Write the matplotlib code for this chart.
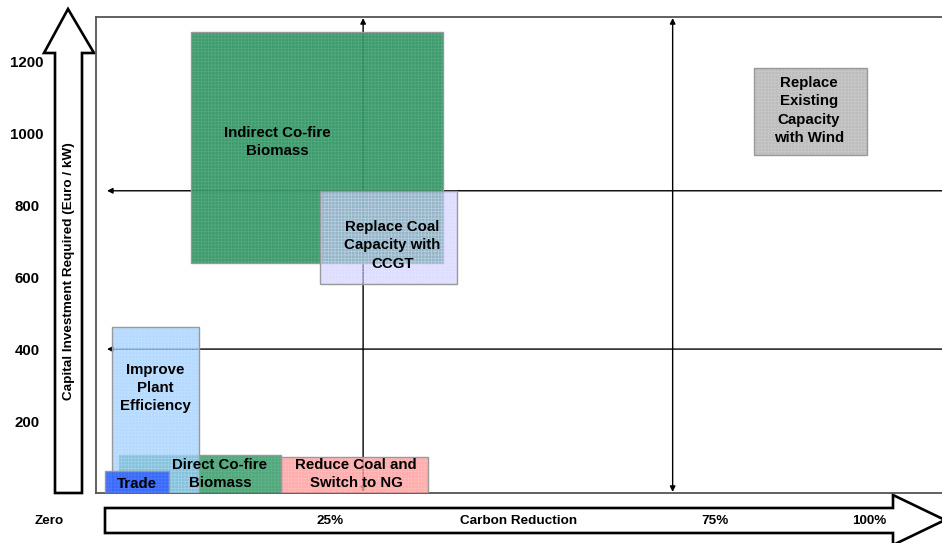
import matplotlib
matplotlib.use('Agg')
import matplotlib.pyplot as plt
from matplotlib.patches import Rectangle, Polygon
from matplotlib.transforms import blended_transform_factory

plt.rcParams['font.family'] = ['Liberation Sans', 'DejaVu Sans']
plt.rcParams['font.weight'] = 'bold'
plt.rcParams['hatch.linewidth'] = 0.5

# options: carbon reduction range (%) and capital cost range (Euro/kW)
options = ['Indirect Co-fire\nBiomass', 'Replace Coal\nCapacity with\nCCGT',
           'Replace\nExisting\nCapacity\nwith Wind', 'Direct Co-fire\nBiomass',
           'Reduce Coal and\nSwitch to NG', 'Improve\nPlant\nEfficiency', 'Trade']
reduction_lo = [7.0, 23.7, 80.0, -2.4, 18.6, -3.3, -4.2]
reduction_hi = [39.7, 41.5, 94.8, 18.6, 37.7, 8.0, 4.1]
cost_lo = [640, 580, 940, 0, 0, 0, 0]
cost_hi = [1280, 840, 1180, 105, 100, 460, 60]

cost_ticks = [200, 400, 600, 800, 1000, 1200]
reduction_labels = ['Zero', '25%', 'Carbon Reduction', '75%', '100%']
reduction_label_x = [-11.4, 25, 49.5, 75, 95]

# reference guides
cost_levels = [840, 400]
reduction_levels = [29.3, 69.5]

# styles
face = ['#2f9462', '#c8c8ff', '#bdbdbd', '#339966', '#ff9999', '#99ccff', '#3366ff']
grid = ['#7cc29c', '#eeeeff', '#dcdcdc', '#7cc29c', '#ffd0d0', '#d0e8ff', '#7090ff']
alpha = [0.93, 0.62, 1.0, 0.85, 0.8, 0.72, 0.95]
text_x = [18.1, 33.1, 87.2, 10.7, 28.4, 2.3, -0.1]
text_y = [976, 689, 1063, 53, 53, 292, 25]

W, H = 942, 543
fig = plt.figure(figsize=(W / 100, H / 100), dpi=100)
ax = fig.add_axes([96 / W, (H - 493) / H, (946 - 96) / W, (493 - 17) / H])
ax.set_xlim(-5.39, 105.0)
ax.set_ylim(0, 1323)

for s in ['top', 'left', 'bottom']:
    ax.spines[s].set_color('#555555')
    ax.spines[s].set_linewidth(1.3)
ax.spines['right'].set_visible(False)

ax.set_xticks([])
ax.set_yticks(cost_ticks, [str(v) for v in cost_ticks])
ax.tick_params(axis='y', length=0, pad=49.7, labelsize=10.8)
for lbl in ax.get_yticklabels():
    lbl.set_ha('center')
    lbl.set_fontweight('bold')

# guide arrows
for lv in cost_levels:
    ax.annotate('', xy=(-3.96, lv), xytext=(110, lv),
                arrowprops=dict(arrowstyle='-|>', color='black', lw=1.0,
                                mutation_scale=8, shrinkA=0, shrinkB=0),
                zorder=2, annotation_clip=False)
for lv in reduction_levels:
    ax.annotate('', xy=(lv, 1320), xytext=(lv, 3),
                arrowprops=dict(arrowstyle='<|-|>', color='black', lw=1.0,
                                mutation_scale=8, shrinkA=0, shrinkB=0),
                zorder=2)

for i, name in enumerate(options):
    w = reduction_hi[i] - reduction_lo[i]
    h = cost_hi[i] - cost_lo[i]
    ax.add_patch(Rectangle((reduction_lo[i], cost_lo[i]), w, h,
                           facecolor=face[i], alpha=alpha[i], edgecolor='none',
                           zorder=3 + i))
    ax.add_patch(Rectangle((reduction_lo[i], cost_lo[i]), w, h,
                           facecolor='none', edgecolor=grid[i], hatch='+++++',
                           lw=0, alpha=0.38, zorder=3 + i))
    ax.add_patch(Rectangle((reduction_lo[i], cost_lo[i]), w, h,
                           facecolor='none', edgecolor='#999999', lw=1.0,
                           zorder=3 + i))
    ax.text(text_x[i], text_y[i], name, ha='center', va='center',
            fontsize=10.8, fontweight='bold', linespacing=1.4, zorder=20)

# hollow axis arrows (pixel outlines, y measured from top)
def px(points):
    return [(x / W, 1 - y / H) for x, y in points]

up = px([(55, 493), (55, 53), (44, 53), (68, 9), (94, 53), (82, 53), (82, 493)])
right = px([(105, 508), (893, 508), (893, 495), (945, 520), (893, 545),
            (893, 533), (105, 533)])
for pts in (up, right):
    fig.patches.append(Polygon(pts, closed=True, facecolor='white',
                               edgecolor='black', lw=1.9, zorder=-1,
                               transform=fig.transFigure, figure=fig))

fig.text(69 / W, 1 - 271 / H, 'Capital Investment Required (Euro / kW)',
         rotation=90, ha='center', va='center', fontsize=9.7, fontweight='bold')

trans = blended_transform_factory(ax.transData, fig.transFigure)
for lx, lab in zip(reduction_label_x, reduction_labels):
    ax.text(lx, 1 - 521 / H, lab, transform=trans, ha='center', va='center',
            fontsize=9.7, fontweight='bold', clip_on=False, zorder=30)

fig.savefig('out.png', dpi=100)
